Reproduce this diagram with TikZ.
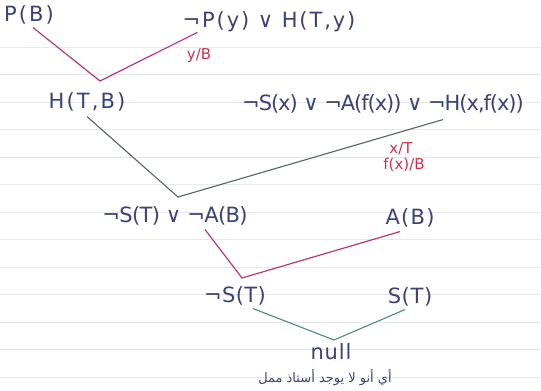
\documentclass[tikz,border=0pt]{standalone}
\usepackage{fontspec}
\setmainfont{DejaVu Sans}
\newfontfamily\arabicfont[Script=Arabic]{DejaVu Sans}
\TeXXeTstate=1
\definecolor{ink}{HTML}{3D4274}
\definecolor{magline}{HTML}{B53A78}
\definecolor{grayline}{HTML}{56665E}
\definecolor{greenline}{HTML}{4F8C76}
\definecolor{redlbl}{HTML}{C8324F}
\definecolor{paperrule}{HTML}{E6E8EA}
\begin{document}
\begin{tikzpicture}[x=1pt,y=-1pt,
  clause/.style={text=ink, inner sep=0pt, font=\fontsize{21}{21}\selectfont},
  ls/.style={execute at begin node=\addfontfeature{LetterSpace=#1}},
  subst/.style={text=redlbl, inner sep=0pt, font=\fontsize{15}{15}\selectfont},
  magres/.style={draw=magline, line width=1.2pt},
  grayres/.style={draw=grayline, line width=1.1pt},
  greenres/.style={draw=greenline, line width=1.1pt},
  rule/.style={draw=paperrule, line width=0.6pt}]
\useasboundingbox (0,0) rectangle (541,391);
\fill[white] (0,0) rectangle (541,391);
\foreach \yy in {47,74.5,102,129.5,157,184.5,212,239.5,267,294.5,322,349.5,377}
  \draw[rule] (0,\yy) -- (541,\yy);

% clauses
\node[clause, ls=10] (PB) at (29,15) {P(B)};
\node[clause, ls=9] (PyH) at (269,22) {¬P(y) ∨ H(T,y)};
\node[subst] (yB) at (199,56) {y/B};
\node[clause, ls=10] (HTB) at (87,102) {H(T,B)};
\node[clause, ls=-5] (big) at (383,104) {¬S(x) ∨ ¬A(f(x)) ∨ ¬H(x,f(x))};
\node[subst] (xT) at (401,149) {x/T};
\node[subst] (fxB) at (404,165) {f(x)/B};
\node[clause, ls=-3] (SA) at (175,216) {¬S(T) ∨ ¬A(B)};
\node[clause, ls=6] (AB) at (410,218) {A(B)};
\node[clause, ls=2] (nST) at (235,296) {¬S(T)};
\node[clause, ls=3] (ST) at (410,297) {S(T)};
\node[clause, ls=4] (null) at (331,352) {null};
\node[text=ink, inner sep=0pt, font=\arabicfont\fontsize{13}{13}\selectfont] (ar) at (325,378) {\beginR أي أنو لا يوجد أستاذ ممل\endR};

% resolution steps
\coordinate (r1) at (100,81);
\coordinate (r2) at (178,197);
\coordinate (r3) at (242,278);
\coordinate (r4) at (334,340);
\draw[magres] ([xshift=4pt,yshift=-3pt]PB.south) -- (r1) -- ([xshift=15pt,yshift=0pt]PyH.south west);
\draw[grayres] ([yshift=-5pt]HTB.south) -- (r2) -- ([xshift=60pt,yshift=-6pt]big.south);
\draw[magres] ([xshift=30pt,yshift=-4pt]SA.south) -- (r3) -- ([xshift=-10pt,yshift=-4pt]AB.south);
\draw[greenres] ([xshift=18pt,yshift=-3pt]nST.south) -- (r4) -- ([xshift=-5pt,yshift=-3pt]ST.south);
\end{tikzpicture}
\end{document}
